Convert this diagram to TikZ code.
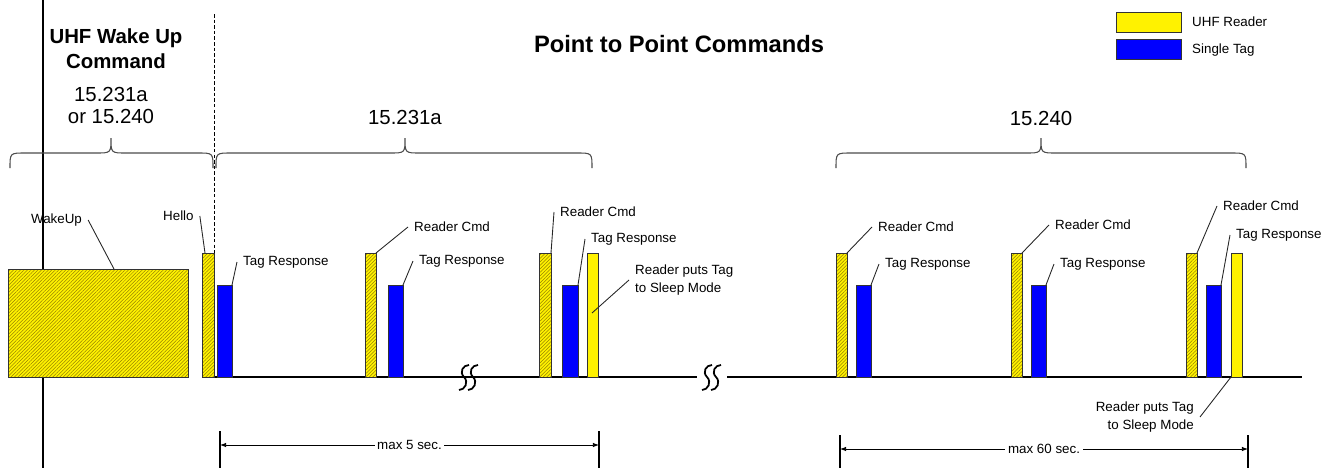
\documentclass[tikz,border=0pt]{standalone}
\usepackage{fontspec}
\setmainfont{Liberation Sans}
\usetikzlibrary{arrows.meta,patterns.meta}

\definecolor{hatch}{RGB}{150,130,0}

\tikzset{
  lbl/.style={font=\fontsize{7.6}{10}\selectfont},
  big/.style={font=\fontsize{11.6}{13}\selectfont},
  lead/.style={draw=black!85, line width=0.5pt},
  rdr/.style={draw=black!80, line width=0.5pt, preaction={fill=yellow},
    pattern={Lines[angle=45,distance=1.4pt,line width=0.3pt]}, pattern color=hatch},
  slp/.style={draw=black!80, line width=0.5pt, fill=yellow},
  tagbar/.style={draw=black!80, line width=0.5pt, fill=blue},
  brc/.style={draw=black!70, line width=0.6pt},
  dim/.style={line width=0.5pt, {Latex[length=3.5pt,width=2.6pt]}-{Latex[length=3.5pt,width=2.6pt]}},
}

% left x, tip x, right x
\newcommand{\tbrace}[3]{%
  \draw[brc] (#1,168) .. controls (#1,153) .. (#1+15,153) -- (#2-15,153)
    .. controls (#2,153) .. (#2,138) .. controls (#2,153) .. (#2+15,153)
    -- (#3-15,153) .. controls (#3,153) .. (#3,168);}

\begin{document}
\begin{tikzpicture}[x=0.2mm,y=-0.2mm]
  \useasboundingbox (0,0) rectangle (1322,468);

  % time line and markers
  \draw[line width=1.1pt] (43,0) -- (43,468);
  \draw[line width=0.5pt, dash pattern=on 2pt off 1.2pt] (214,14) -- (214,379);
  \draw[line width=0.6pt] (214,377) -- (697,377);
  \draw[line width=0.6pt] (727,377) -- (1302,377);
  \foreach \x in {464,473,707,716}
    \draw[line width=1pt] (\x+5,365) .. controls (\x-1,365) and (\x-5,372) .. (\x,377)
      .. controls (\x+5,382) and (\x+1,390) .. (\x-5,390);

  % headings
  \node[font=\bfseries\fontsize{13.5}{16}\selectfont] (ptp) at (679,44) {Point to Point Commands};
  \node[font=\bfseries\fontsize{11.6}{14.2}\selectfont, align=center] (wuc) at (116,48.5) {UHF Wake Up\\Command};
  \node[big, align=center] (f1) at (111,105.5) {15.231a\\or 15.240};
  \node[big] (f2) at (405,117) {15.231a};
  \node[big] (f3) at (1041,118) {15.240};
  \tbrace{10}{111}{213}
  \tbrace{216}{405}{592}
  \tbrace{836}{1041}{1246}

  % legend
  \draw[slp] (1116,12) rectangle (1181,32);
  \draw[tagbar] (1116,39) rectangle (1181,59);
  \node[lbl, anchor=west] (lg1) at (1186,22) {UHF Reader};
  \node[lbl, anchor=west] (lg2) at (1186,50) {Single Tag};

  % bars
  \draw[rdr] (8,377) rectangle (188,269);
  \draw[rdr] (202,377) rectangle (214,253);
  \foreach \a/\b/\n in {365/376/r2, 539/551/r3, 836/847/r4, 1011/1022/r5, 1186/1197/r6}
    \draw[rdr] (\a,377) rectangle (\b,253) coordinate (\n);
  \foreach \a/\b/\n in {217/232/t1, 388/403/t2, 562/578/t3, 856/871/t4, 1031/1046/t5, 1206/1221/t6}
    \draw[tagbar] (\a,377) rectangle (\b,285) coordinate (\n);
  \draw[slp] (587,377) rectangle (598,253);
  \draw[slp] (1231,377) rectangle (1242,253);

  % labels
  \coordinate (wkb) at (114,269);
  \coordinate (hlb) at (205,253);
  \coordinate (s1b) at (592,313);
  \coordinate (s2b) at (1231,377);
  \node[lbl, anchor=west] (wk) at (25,220) {WakeUp};
  \node[lbl, anchor=west] (hl) at (157,216) {Hello};
  \node[lbl, anchor=west] (lt1) at (237,262) {Tag Response};
  \node[lbl, anchor=west] (lr2) at (408,227) {Reader Cmd};
  \node[lbl, anchor=west] (lt2) at (413,261) {Tag Response};
  \node[lbl, anchor=west] (lr3) at (554,212) {Reader Cmd};
  \node[lbl, anchor=west] (lt3) at (585,239) {Tag Response};
  \node[lbl, anchor=west, align=left] (ls1) at (629,280) {Reader puts Tag\\to Sleep Mode};
  \node[lbl, anchor=west] (lr4) at (872,227) {Reader Cmd};
  \node[lbl, anchor=west] (lt4) at (879,264) {Tag Response};
  \node[lbl, anchor=west] (lr5) at (1049,225) {Reader Cmd};
  \node[lbl, anchor=west] (lt5) at (1054,264) {Tag Response};
  \node[lbl, anchor=west] (lr6) at (1217,206) {Reader Cmd};
  \node[lbl, anchor=west] (lt6) at (1230,235) {Tag Response};
  \node[lbl, anchor=east, align=right] (ls2) at (1200,417) {Reader puts Tag\\to Sleep Mode};
  \draw[lead] (wk.east) -- (wkb);
  \draw[lead] (hl.east) -- (hlb);
  \draw[lead] (ls1.west) -- (s1b);
  \draw[lead] (ls2.east) -- (s2b);
  \foreach \n in {t1,r2,t2,r3,t3,r4,t4,r5,t5,r6,t6}
    \draw[lead] (l\n.west) -- (\n);

  % durations
  \draw[line width=0.6pt] (220,431) -- (220,468);
  \draw[line width=0.6pt] (599,431) -- (599,468);
  \draw[line width=0.6pt] (840,435) -- (840,468);
  \draw[line width=0.6pt] (1248,435) -- (1248,468);
  \coordinate (d1a) at (220,445);
  \coordinate (d1b) at (599,445);
  \coordinate (d2a) at (840,449);
  \coordinate (d2b) at (1248,449);
  \draw[dim] (d1a) -- node[lbl, fill=white, inner sep=1.5pt] (d1) {max 5 sec.} (d1b);
  \draw[dim] (d2a) -- node[lbl, fill=white, inner sep=1.5pt] (d2) {max 60 sec.} (d2b);
\end{tikzpicture}
\end{document}
